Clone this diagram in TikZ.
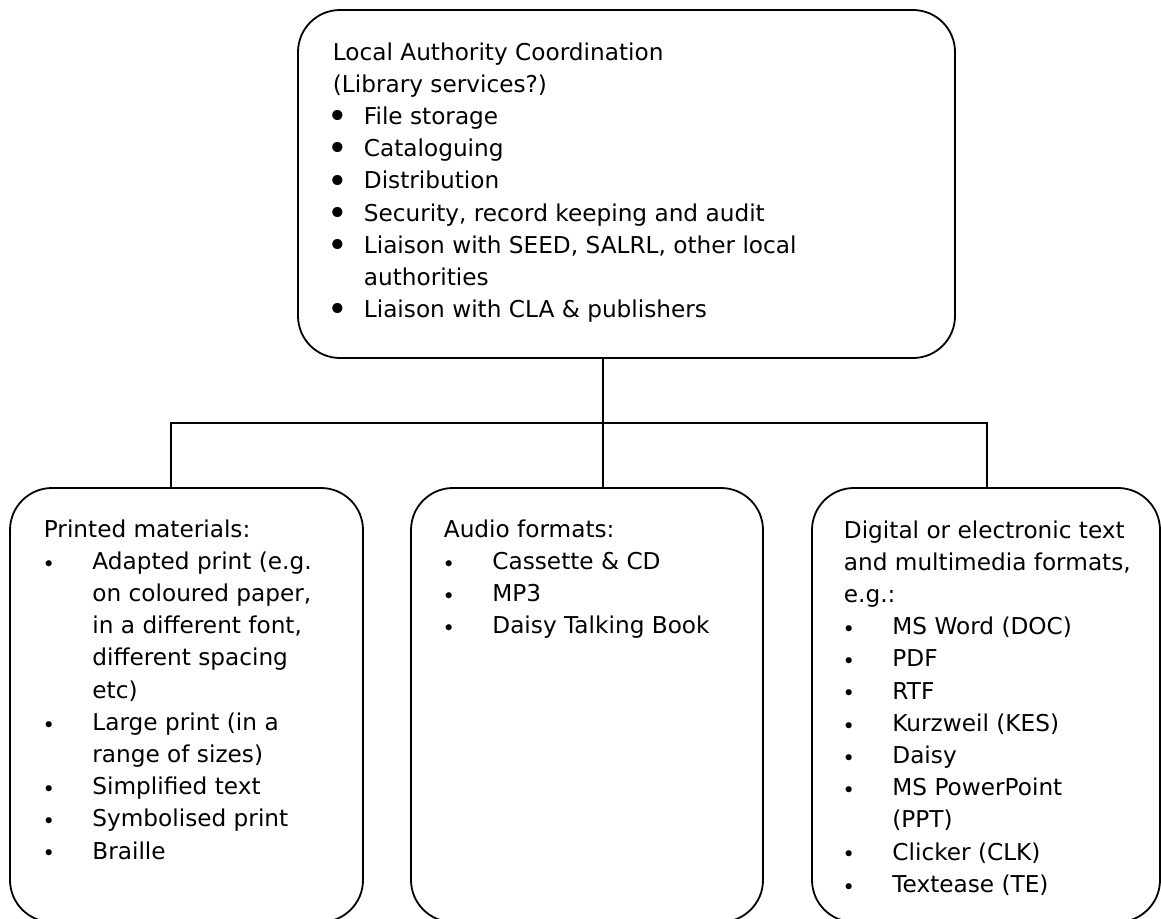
\documentclass[tikz,border=0pt]{standalone}
\usepackage{fontspec}
\setmainfont{DejaVu Sans}
\usetikzlibrary{positioning}

\newcommand{\boxfont}{\fontsize{23.2}{32.2}\selectfont}
\newcommand{\topitem}[1]{\makebox[31pt][l]{\kern-5.3pt\raisebox{-4.3pt}{\fontsize{35}{35}\selectfont\textbullet}}#1}
\newcommand{\lowitem}[1]{\makebox[48.5pt][l]{\kern-1.2pt\raisebox{-1.8pt}{\fontsize{21}{21}\selectfont\textbullet}}#1}

\begin{document}
\begin{tikzpicture}[x=1pt, y=-1pt, line width=1.8pt,
  roundbox/.style={draw, rounded corners=42pt, inner sep=0pt},
  boxtext/.style={anchor=base west, inner sep=0pt}]
\useasboundingbox (0,0) rectangle (1161,918);
\clip (0,0) rectangle (1161,918);

\node[roundbox, minimum width=657pt, minimum height=348pt] (coord) at (626.5,184) {};
\node[roundbox, minimum width=353pt, minimum height=434pt] (printed) at (186.5,705) {};
\node[roundbox, minimum width=352pt, minimum height=434pt] (audio) at (587,705) {};
\node[roundbox, minimum width=348pt, minimum height=434pt] (digital) at (986,705) {};

\node[boxtext] (coordtext) at (332,60) {\parbox[t]{610pt}{\boxfont
  Local Authority Coordination\\
  (Library services?)\\
  \topitem{File storage}\\
  \topitem{Cataloguing}\\
  \topitem{Distribution}\\
  \topitem{Security, record keeping and audit}\\
  \topitem{Liaison with SEED, SALRL, other local}\\
  \hspace*{31pt}authorities\\
  \topitem{Liaison with CLA \& publishers}}};

\node[boxtext] (printedtext) at (43,537) {\parbox[t]{310pt}{\boxfont
  Printed materials:\\
  \lowitem{Adapted print (e.g.}\\
  \hspace*{48.5pt}on coloured paper,\\
  \hspace*{48.5pt}in a different font,\\
  \hspace*{48.5pt}different spacing\\
  \hspace*{48.5pt}etc)\\
  \lowitem{Large print (in a}\\
  \hspace*{48.5pt}range of sizes)\\
  \lowitem{Simplified text}\\
  \lowitem{Symbolised print}\\
  \lowitem{Braille}}};

\node[boxtext] (audiotext) at (443,537) {\parbox[t]{310pt}{\boxfont
  Audio formats:\\
  \lowitem{Cassette \& CD}\\
  \lowitem{MP3}\\
  \lowitem{Daisy Talking Book}}};

\node[boxtext] (digitaltext) at (843,538) {\parbox[t]{310pt}{\boxfont
  Digital or electronic text\\
  and multimedia formats,\\
  e.g.:\\
  \lowitem{MS Word (DOC)}\\
  \lowitem{PDF}\\
  \lowitem{RTF}\\
  \lowitem{Kurzweil (KES)}\\
  \lowitem{Daisy}\\
  \lowitem{MS PowerPoint}\\
  \hspace*{48.5pt}(PPT)\\
  \lowitem{Clicker (CLK)}\\
  \lowitem{Textease (TE)}}};

\coordinate (bus) at (603,423);
\coordinate (busleft) at (171,423);
\coordinate (busright) at (987,423);
\draw (coord.south -| bus) -- (audio.north -| bus);
\draw (printed.north -| busleft) -- (busleft) -- (busright) -- (digital.north -| busright);
\end{tikzpicture}
\end{document}
